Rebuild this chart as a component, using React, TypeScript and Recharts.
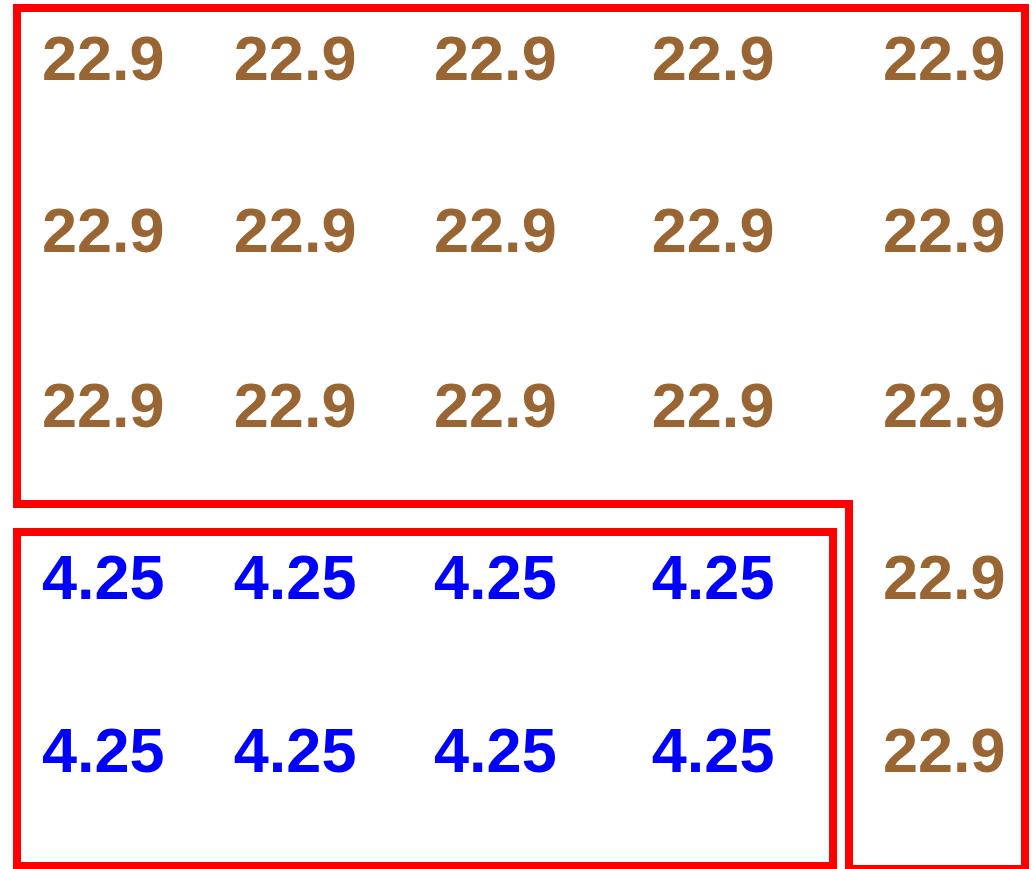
import React from "react";
import { ScatterChart, Scatter, XAxis, YAxis, ReferenceLine } from "recharts";

// Column positions (x, in % of width) and row positions (y, in % of height, top = 0)
const columnX = [10.0, 28.6, 48.0, 69.1, 91.5];
const rowY = [6.56, 26.35, 46.4, 66.3, 86.1];

// Cell values, row by row
const row1 = [22.9, 22.9, 22.9, 22.9, 22.9];
const row2 = [22.9, 22.9, 22.9, 22.9, 22.9];
const row3 = [22.9, 22.9, 22.9, 22.9, 22.9];
const row4 = [4.25, 4.25, 4.25, 4.25, 22.9];
const row5 = [4.25, 4.25, 4.25, 4.25, 22.9];
const rows = [row1, row2, row3, row4, row5];

const highValue = 22.9;
const lowValue = 4.25;

// Group outlines (data units)
const outerOutline = [
  { x: 1.65, y: 0.92 },
  { x: 99.32, y: 0.92 },
  { x: 99.32, y: 100 },
  { x: 82.27, y: 100 },
  { x: 82.27, y: 58.0 },
  { x: 1.65, y: 58.0 },
  { x: 1.65, y: 0.92 },
];
const innerOutline = [
  { x: 1.65, y: 61.22 },
  { x: 80.72, y: 61.22 },
  { x: 80.72, y: 99.65 },
  { x: 1.65, y: 99.65 },
  { x: 1.65, y: 61.22 },
];

const COLORS: Record<string, string> = {
  high: "#996633",
  low: "#0000ff",
};

const cells: { x: number; y: number; v: number }[] = [];
rows.forEach((r, ri) =>
  r.forEach((v, ci) => cells.push({ x: columnX[ci], y: rowY[ri], v }))
);
const highCells = cells.filter((c) => c.v === highValue);
const lowCells = cells.filter((c) => c.v === lowValue);

const makeShape = (color: string) => (props: any) => {
  const { cx, cy, payload } = props;
  return (
    <text
      x={cx}
      y={cy}
      dy="0.37em"
      textAnchor="middle"
      fill={color}
      fontFamily="'Liberation Sans', Arial, Helvetica, sans-serif"
      fontWeight="bold"
      fontSize={63}
    >
      {String(payload.v)}
    </text>
  );
};

const segments = (pts: { x: number; y: number }[]) =>
  pts.slice(0, -1).map((p, i) => [p, pts[i + 1]]);

export default function App() {
  return (
    <div style={{ position: "absolute", left: 0, top: 0, width: 1032, height: 869, background: "#fff" }}>
      <ScatterChart width={1032} height={869} margin={{ top: 0, right: 0, bottom: 0, left: 0 }}>
        <XAxis type="number" dataKey="x" domain={[0, 100]} hide />
        <YAxis type="number" dataKey="y" domain={[0, 100]} reversed hide />
        {segments(outerOutline).map((seg, i) => (
          <ReferenceLine
            key={"o" + i}
            segment={seg}
            stroke="#ff0000"
            strokeWidth={8}
            strokeLinecap="square"
            ifOverflow="visible"
          />
        ))}
        {segments(innerOutline).map((seg, i) => (
          <ReferenceLine
            key={"i" + i}
            segment={seg}
            stroke="#ff0000"
            strokeWidth={8}
            strokeLinecap="square"
            ifOverflow="visible"
          />
        ))}
        <Scatter data={highCells} shape={makeShape(COLORS.high)} isAnimationActive={false} />
        <Scatter data={lowCells} shape={makeShape(COLORS.low)} isAnimationActive={false} />
      </ScatterChart>
    </div>
  );
}
